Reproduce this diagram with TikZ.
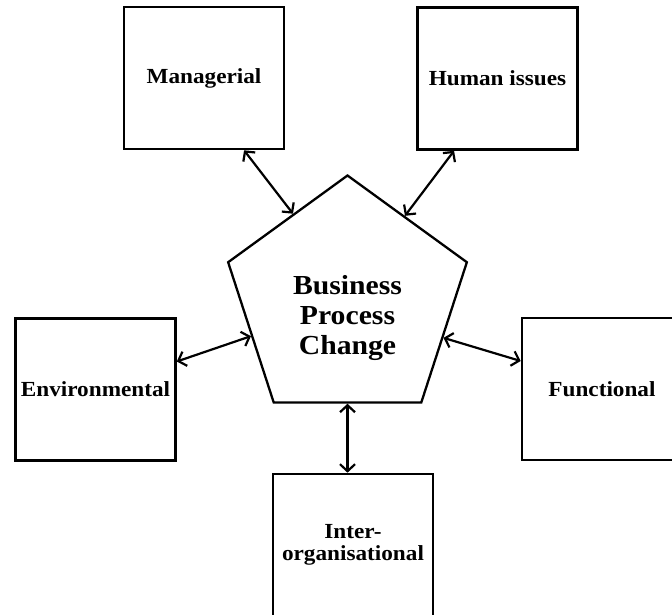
\documentclass[tikz,border=0pt]{standalone}
\usepackage{fontspec}
\setmainfont[FakeStretch=1.08]{Liberation Serif}
\usetikzlibrary{shapes.geometric,arrows.meta}
\begin{document}
\begin{tikzpicture}[x=1pt,y=-1pt,
  box/.style={draw, line width=2.6pt, minimum width=160pt, minimum height=142pt, inner sep=0pt, align=center, font=\fontsize{21.5}{22}\selectfont\bfseries},
  conn/.style={{Straight Barb[length=7pt,width=15pt]}-{Straight Barb[length=7pt,width=15pt]}, line width=2.2pt}]
\useasboundingbox (0,0) rectangle (672,614);
\clip (0,0) rectangle (672,614);
\node[regular polygon, regular polygon sides=5, draw, line width=2.3pt, minimum size=251pt, inner sep=0pt] (bpc) at (347.5,301){};
\node[align=center, font=\fontsize{27.5}{30}\selectfont\bfseries] (bpctext) at (347.5,318){Business\\Process\\Change};
\node[box] (man) at (204,78){Managerial};
\node[box] (hum) at (497.5,78.5){Human issues};
\node[box] (env) at (95.5,389.5){Environmental};
\node[box] (fun) at (602,389){Functional};
\node[box] (inter) at (353,545){Inter-\\organisational};
\draw[conn](man.-61) -- (bpc.122.5);
\draw[conn](hum.-121) -- (bpc.56.8);
\draw[conn](env.19) -- (bpc.200.7);
\draw[conn](fun.161.6) -- (bpc.-21.3);
\draw[conn](bpc.south) -- (bpc.south |- inter.north);
\end{tikzpicture}
\end{document}
